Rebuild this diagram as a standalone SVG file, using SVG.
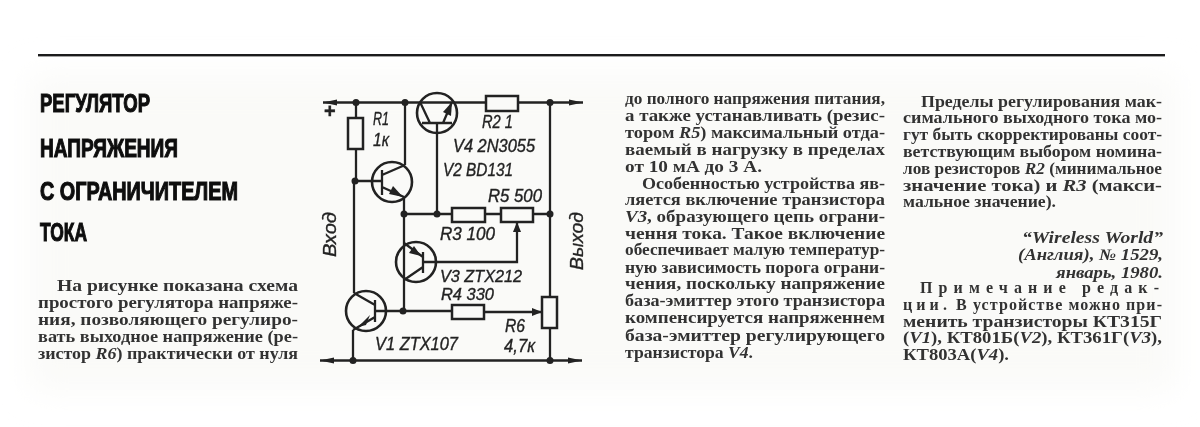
<svg xmlns="http://www.w3.org/2000/svg" width="1200" height="427" viewBox="0 0 1200 427">
<defs>
<filter id="scan" x="-2%" y="-2%" width="104%" height="104%"><feGaussianBlur stdDeviation="0.6"/></filter>
<filter id="soft" x="-5%" y="-20%" width="110%" height="140%"><feGaussianBlur stdDeviation="16"/></filter>
<marker id="ah" markerUnits="userSpaceOnUse" markerWidth="16" markerHeight="10" refX="14" refY="4" orient="auto-start-reverse"><path d="M0 1 L14 4 L0 7 Z" fill="#222"/></marker>
<marker id="tip" markerUnits="userSpaceOnUse" markerWidth="12" markerHeight="10" refX="10" refY="5" orient="auto"><path d="M0 1 L10 5 L0 9 Z" fill="#222"/></marker>
</defs>
<style>
.w{fill:none;stroke:#222;stroke-width:2.3}
.b{fill:#fafaf8;stroke:#222;stroke-width:2.5}
.c{fill:none;stroke:#222;stroke-width:2.6}
.d{fill:#222}
.t{font-family:"Liberation Serif",serif;font-size:16px;font-weight:bold;fill:#333}
.i{font-style:italic}
.h{font-family:"Liberation Sans",sans-serif;font-weight:bold;font-size:25px;fill:#111;stroke:#111;stroke-width:1.1}
.l{font-family:"Liberation Sans",sans-serif;font-style:italic;font-size:18px;fill:#222;stroke:#222;stroke-width:.35}
.s{font-size:16.5px}
</style>
<rect width="1200" height="427" fill="#ffffff"/>
<rect x="30" y="75" width="1145" height="315" fill="#fafaf8" filter="url(#soft)"/>
<g filter="url(#scan)">
<rect id="top-rule" x="38" y="54" width="1127" height="2.4" fill="#1c1c1c"/>
<g id="title">
<text class="h" x="40" y="112" textLength="110" lengthAdjust="spacingAndGlyphs">РЕГУЛЯТОР</text>
<text class="h" x="40" y="157" textLength="138" lengthAdjust="spacingAndGlyphs">НАПРЯЖЕНИЯ</text>
<text class="h" x="40" y="200" textLength="198" lengthAdjust="spacingAndGlyphs">С  ОГРАНИЧИТЕЛЕМ</text>
<text class="h" x="40" y="241" textLength="47" lengthAdjust="spacingAndGlyphs">ТОКА</text>
</g>
<g id="column-1">
<text class="t" x="57" y="291" textLength="241" lengthAdjust="spacingAndGlyphs">На рисунке показана схема</text>
<text class="t" x="38" y="308" textLength="260" lengthAdjust="spacingAndGlyphs">простого регулятора напряже-</text>
<text class="t" x="38" y="325" textLength="260" lengthAdjust="spacingAndGlyphs">ния, позволяющего регулиро-</text>
<text class="t" x="38" y="342" textLength="260" lengthAdjust="spacingAndGlyphs">вать выходное напряжение (ре-</text>
<text class="t" x="38" y="359" textLength="260" lengthAdjust="spacingAndGlyphs">зистор <tspan class="i">R6</tspan>) практически от нуля</text>
</g>
<g id="connectors">
<path class="w" d="M323 102.500H583" marker-start="url(#ah)" marker-end="url(#ah)"/>
<path class="w" d="M320 360.500H582" marker-start="url(#ah)" marker-end="url(#ah)"/>
<path class="w" d="M356 102V118M356 149V181M354 181V293M353 330V360"/>
<path class="w" d="M356 181H382M405 102V165M404 197V311M404 214H452"/>
<path class="w" d="M437 123V214M485 214H501M533 214H550M550 103V297M550 328V360"/>
<path class="w" d="M423 262H517V222" marker-end="url(#tip)"/>
<path class="w" d="M375 311H452M484 312H542" marker-end="url(#tip)"/>
<g class="d">
<circle cx="356" cy="102.500" r="3.500"/><circle cx="405" cy="102.500" r="3.500"/><circle cx="550" cy="102.500" r="3.500"/>
<circle cx="355" cy="181" r="3.500"/><circle cx="404" cy="214" r="3.500"/><circle cx="437" cy="214" r="3.500"/><circle cx="550" cy="214" r="3.500"/>
<circle cx="403" cy="311" r="3.500"/><circle cx="353" cy="360.500" r="3.500"/><circle cx="550" cy="360.500" r="3.500"/>
</g>
</g>
<g id="R1"><rect class="b" x="348" y="118" width="15" height="31"/><text class="l" x="373" y="125" textLength="16" lengthAdjust="spacingAndGlyphs">R1</text><text class="l" x="373" y="146" textLength="16" lengthAdjust="spacingAndGlyphs">1к</text></g>
<g id="R2"><rect class="b" x="486" y="96" width="32" height="15"/><text class="l" x="482" y="128" textLength="31" lengthAdjust="spacingAndGlyphs">R2 1</text></g>
<g id="R3"><rect class="b" x="452" y="208" width="33" height="14"/><text class="l" x="440" y="240" textLength="55" lengthAdjust="spacingAndGlyphs">R3 100</text></g>
<g id="R4"><rect class="b" x="452" y="305" width="32" height="14"/><text class="l s" x="441" y="300" textLength="53" lengthAdjust="spacingAndGlyphs">R4 330</text></g>
<g id="R5"><rect class="b" x="501" y="208" width="32" height="14"/><text class="l" x="488" y="202" textLength="54" lengthAdjust="spacingAndGlyphs">R5 500</text></g>
<g id="R6"><rect class="b" x="542" y="297" width="15" height="31"/><text class="l" x="505" y="332" textLength="20" lengthAdjust="spacingAndGlyphs">R6</text><text class="l" x="504" y="352" textLength="31" lengthAdjust="spacingAndGlyphs">4,7к</text></g>
<g id="V1"><circle class="c" cx="366" cy="311" r="20"/><path class="w" d="M375 300V322M375 305L354 293M375 317L353 330"/><path class="d" d="M358 327L370 315L366 325Z"/><text class="l" x="375" y="350" textLength="83" lengthAdjust="spacingAndGlyphs">V1 ZTX107</text></g>
<g id="V2"><circle class="c" cx="392" cy="182" r="20"/><path class="w" d="M382 170V195M382 175L405 165M382 187L404 197"/><path class="d" d="M403 197L389 194L393 186Z"/><text class="l" x="443" y="176" textLength="70" lengthAdjust="spacingAndGlyphs">V2 BD131</text></g>
<g id="V3"><circle class="c" cx="416" cy="262" r="20"/><path class="w" d="M423 252V273M423 257L404 243M423 267L404 280"/><path class="d" d="M421 256L409 253L414 246Z"/><text class="l s" x="440" y="282" textLength="82" lengthAdjust="spacingAndGlyphs">V3 ZTX212</text></g>
<g id="V4"><circle class="c" cx="437" cy="113" r="20"/><path class="w" d="M422 123H452M430 123L420 102M443 123L452 102"/><path class="d" d="M452 102L451 116L443 112Z"/><text class="l" x="453" y="152" textLength="82" lengthAdjust="spacingAndGlyphs">V4 2N3055</text></g>
<g id="terminals">
<text class="l" x="324" y="118" style="font-style:normal;font-weight:bold;font-size:20px">+</text>
<text class="l" transform="translate(336 257) rotate(-90)" textLength="45" lengthAdjust="spacingAndGlyphs">Вход</text>
<text class="l" transform="translate(583 270) rotate(-90)" textLength="58" lengthAdjust="spacingAndGlyphs">Выход</text>
</g>
<g id="column-2">
<text class="t" x="625" y="104" textLength="260" lengthAdjust="spacingAndGlyphs">до полного напряжения питания,</text>
<text class="t" x="625" y="121" textLength="260" lengthAdjust="spacingAndGlyphs">а также устанавливать (резис-</text>
<text class="t" x="625" y="138" textLength="260" lengthAdjust="spacingAndGlyphs">тором <tspan class="i">R5</tspan>) максимальный отда-</text>
<text class="t" x="625" y="155" textLength="260" lengthAdjust="spacingAndGlyphs">ваемый в нагрузку в пределах</text>
<text class="t" x="625" y="172" textLength="137" lengthAdjust="spacingAndGlyphs">от 10 мА до 3 А.</text>
<text class="t" x="642" y="189" textLength="243" lengthAdjust="spacingAndGlyphs">Особенностью устройства яв-</text>
<text class="t" x="625" y="205" textLength="260" lengthAdjust="spacingAndGlyphs">ляется включение транзистора</text>
<text class="t" x="625" y="222" textLength="260" lengthAdjust="spacingAndGlyphs"><tspan class="i">V3</tspan>, образующего цепь ограни-</text>
<text class="t" x="625" y="239" textLength="260" lengthAdjust="spacingAndGlyphs">чення тока. Такое включение</text>
<text class="t" x="625" y="255" textLength="260" lengthAdjust="spacingAndGlyphs">обеспечивает малую температур-</text>
<text class="t" x="625" y="273" textLength="260" lengthAdjust="spacingAndGlyphs">ную зависимость порога ограни-</text>
<text class="t" x="625" y="289" textLength="260" lengthAdjust="spacingAndGlyphs">чения, поскольку напряжение</text>
<text class="t" x="625" y="306" textLength="260" lengthAdjust="spacingAndGlyphs">база-эмиттер этого транзистора</text>
<text class="t" x="625" y="323" textLength="260" lengthAdjust="spacingAndGlyphs">компенсируется напряженнем</text>
<text class="t" x="625" y="341" textLength="260" lengthAdjust="spacingAndGlyphs">база-эмиттер регулирующего</text>
<text class="t" x="625" y="358" textLength="128" lengthAdjust="spacingAndGlyphs">транзистора <tspan class="i">V4</tspan>.</text>
</g>
<g id="column-3">
<text class="t" x="921" y="107" textLength="241" lengthAdjust="spacingAndGlyphs">Пределы регулирования мак-</text>
<text class="t" x="903" y="123" textLength="259" lengthAdjust="spacingAndGlyphs">симального выходного тока мо-</text>
<text class="t" x="903" y="140" textLength="259" lengthAdjust="spacingAndGlyphs">гут быть скорректированы соот-</text>
<text class="t" x="903" y="157" textLength="259" lengthAdjust="spacingAndGlyphs">ветствующим выбором номина-</text>
<text class="t" x="903" y="174" textLength="259" lengthAdjust="spacingAndGlyphs">лов резисторов <tspan class="i">R2</tspan> (минимальное</text>
<text class="t" x="903" y="191" textLength="259" lengthAdjust="spacingAndGlyphs">значение тока) и <tspan class="i">R3</tspan> (макси-</text>
<text class="t" x="903" y="207" textLength="153" lengthAdjust="spacingAndGlyphs">мальное значение).</text>
<text class="t i" x="1022" y="243" textLength="141" lengthAdjust="spacingAndGlyphs">“Wireless World”</text>
<text class="t i" x="1018" y="260" textLength="145" lengthAdjust="spacingAndGlyphs">(Англия), № 1529,</text>
<text class="t i" x="1056" y="278" textLength="107" lengthAdjust="spacingAndGlyphs">январь, 1980.</text>
<text class="t" x="920" y="293" textLength="242" style="letter-spacing:3px">Примечание редак-</text>
<text class="t" x="903" y="310" textLength="259" lengthAdjust="spacing"><tspan style="letter-spacing:3px">ции.</tspan> В устройстве можно при-</text>
<text class="t" x="903" y="327" textLength="259" lengthAdjust="spacingAndGlyphs">менить транзисторы КТ315Г</text>
<text class="t" x="903" y="343" textLength="259" lengthAdjust="spacingAndGlyphs">(<tspan class="i">V1</tspan>), КТ801Б(<tspan class="i">V2</tspan>), КТ361Г(<tspan class="i">V3</tspan>),</text>
<text class="t" x="903" y="360" textLength="106" lengthAdjust="spacingAndGlyphs">КТ803А(<tspan class="i">V4</tspan>).</text>
</g>
</g>
</svg>
